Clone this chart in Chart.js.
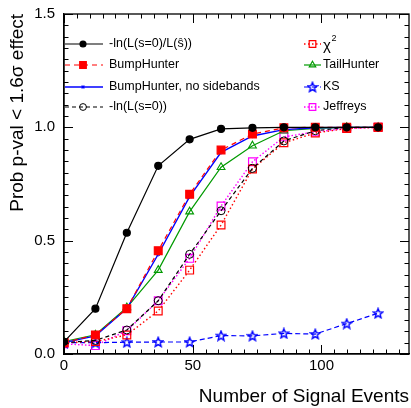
<!DOCTYPE html>
<html>
<head>
<meta charset="utf-8">
<script src="https://cdn.jsdelivr.net/npm/chart.js@4/dist/chart.umd.min.js"></script>
<style>
  body { margin: 0; background: #fff; }
  #wrap { width: 411px; height: 408px; }
</style>
</head>
<body>
<div id="wrap"><canvas id="myChart" width="411" height="408"></canvas></div>
<script>
// number of signal events
const nSignal = [0, 12.2, 24.4, 36.6, 48.8, 61, 73.2, 85.4, 97.6, 109.8, 122];

const llRatio = [0.054, 0.20, 0.535, 0.83, 0.947, 0.993, 0.998, 1.0, 1.0, 1.0, 1.0];
const bumpHunter = [0.05, 0.084, 0.20, 0.456, 0.705, 0.90, 0.97, 0.998, 1.0, 1.0, 1.0];
const bumpHunterNoSb = [0.05, 0.08, 0.20, 0.44, 0.694, 0.89, 0.962, 0.99, 0.998, 1.0, 1.0];
const llNull = [0.05, 0.06, 0.106, 0.235, 0.44, 0.632, 0.819, 0.94, 0.985, 1.0, 1.0];
const chi2 = [0.05, 0.055, 0.084, 0.19, 0.37, 0.569, 0.816, 0.932, 0.975, 0.995, 1.0];
const tailHunter = [0.055, 0.085, 0.205, 0.37, 0.628, 0.824, 0.919, 0.985, 0.995, 1.0, 1.0];
const ks = [0.05, 0.05, 0.052, 0.053, 0.053, 0.081, 0.08, 0.091, 0.088, 0.134, 0.18];
const jeffreys = [0.045, 0.037, 0.103, 0.235, 0.422, 0.653, 0.848, 0.958, 0.98, 0.995, 1.0];

const xTicks = [0, 50, 100];
const yTicks = [0, 0.5, 1.0, 1.5];

const FONT = 'Liberation Sans, Arial, Helvetica, sans-serif';

function pts(vals) {
  return vals.map((v, i) => ({ x: nSignal[i], y: v }));
}

// open 5-point star marker (ROOT style)
function makeStar(color) {
  const c = document.createElement('canvas');
  c.width = 12;
  c.height = 12;
  const g = c.getContext('2d');
  g.strokeStyle = color;
  g.lineWidth = 1.4;
  g.beginPath();
  for (let i = 0; i < 10; i++) {
    const r = i % 2 === 0 ? 5 : 2.2;
    const a = -Math.PI / 2 + (i * Math.PI) / 5;
    const px = 6 + r * Math.cos(a);
    const py = 6.4 + r * Math.sin(a);
    if (i === 0) g.moveTo(px, py);
    else g.lineTo(px, py);
  }
  g.closePath();
  g.stroke();
  return c;
}
const starImg = makeStar('#0000ff');

const none = 'rgba(0,0,0,0)';

const datasets = [
  { label: '-ln(L(s=0)/L(\u015D))', data: pts(llRatio), borderColor: '#000', backgroundColor: '#000',
    pointStyle: 'circle', pointRadius: 3.5, borderWidth: 1.2, col: 0 },
  { label: 'BumpHunter', data: pts(bumpHunter), borderColor: '#ff0000', backgroundColor: '#ff0000',
    borderDash: [5, 4], pointStyle: 'rect', pointRadius: 5.5, borderWidth: 1.2, col: 0 },
  { label: 'BumpHunter, no sidebands', data: pts(bumpHunterNoSb), borderColor: '#0000ff', backgroundColor: '#0000ff',
    pointStyle: 'star', pointRadius: 2.2, borderWidth: 1.4, pointBorderWidth: 1, col: 0 },
  { label: '-ln(L(s=0))', data: pts(llNull), borderColor: '#000', backgroundColor: none,
    borderDash: [4, 3], pointStyle: 'circle', pointRadius: 4, borderWidth: 1.2, pointBorderWidth: 1, col: 0 },
  { label: 'chi2', data: pts(chi2), borderColor: '#ff0000', backgroundColor: none,
    borderDash: [1.5, 2.5], pointStyle: 'rect', pointRadius: 5.5, borderWidth: 1.4, pointBorderWidth: 1.2, col: 1 },
  { label: 'TailHunter', data: pts(tailHunter), borderColor: '#009a00', backgroundColor: none,
    pointStyle: 'triangle', pointRadius: 4.5, borderWidth: 1.2, pointBorderWidth: 1.1, col: 1 },
  { label: 'KS', data: pts(ks), borderColor: '#0000ff', backgroundColor: none,
    borderDash: [5, 3], pointStyle: starImg, pointRadius: 5, borderWidth: 1.2, col: 1 },
  { label: 'Jeffreys', data: pts(jeffreys), borderColor: '#ff00ff', backgroundColor: none,
    borderDash: [1.5, 2], pointStyle: 'rect', pointRadius: 5.5, borderWidth: 1.4, pointBorderWidth: 1.2, col: 1 },
];
datasets.forEach((d) => {
  d.pointBackgroundColor = d.backgroundColor;
  d.pointBorderColor = d.borderColor;
  d.fill = false;
  d.tension = 0;
});

// stretch plot frame to the right edge (layout leaves a few px otherwise)
const stretchPlugin = {
  id: 'stretch',
  afterLayout(chart) {
    const right = chart.width - 2;
    const xs = chart.scales.x;
    xs.right = right;
    xs.width = right - xs.left;
    xs.configure();
    chart.chartArea.right = right;
    chart.chartArea.width = right - chart.chartArea.left;
  },
};

// ROOT-like frame with inner ticks on all four sides
const framePlugin = {
  id: 'frame',
  afterDraw(chart) {
    const ctx = chart.ctx;
    const xs = chart.scales.x;
    const ys = chart.scales.y;
    const a = chart.chartArea;
    ctx.save();
    ctx.strokeStyle = '#000';
    ctx.lineWidth = 1.3;
    ctx.strokeRect(a.left, a.top, a.right - a.left, a.bottom - a.top);
    ctx.lineWidth = 1;
    ctx.beginPath();
    for (let v = 0; v <= 134; v += 5) {
      const px = Math.round(xs.getPixelForValue(v)) + 0.5;
      const len = v % 50 === 0 ? 9 : 4.5;
      ctx.moveTo(px, a.bottom);
      ctx.lineTo(px, a.bottom - len);
      ctx.moveTo(px, a.top);
      ctx.lineTo(px, a.top + len);
    }
    for (let k = 0; k <= 30; k++) {
      const v = k * 0.05;
      const py = Math.round(ys.getPixelForValue(v)) + 0.5;
      const len = k % 10 === 0 ? 9 : 4.5;
      ctx.moveTo(a.left, py);
      ctx.lineTo(a.left + len, py);
      ctx.moveTo(a.right, py);
      ctx.lineTo(a.right - len, py);
    }
    ctx.stroke();
    ctx.restore();
  },
};

function drawMarker(ctx, d, x, y) {
  ctx.setLineDash([]);
  ctx.fillStyle = d.pointBackgroundColor;
  ctx.strokeStyle = d.pointBorderColor;
  ctx.lineWidth = d.pointBorderWidth || d.borderWidth;
  Chart.helpers.drawPoint(ctx, { pointStyle: d.pointStyle, radius: d.pointRadius * 0.85, rotation: 0,
    borderWidth: ctx.lineWidth }, x, y);
}

const legendPlugin = {
  id: 'rootLegend',
  afterDraw(chart) {
    const ctx = chart.ctx;
    const rowsY = [44, 65, 87, 107];
    const cols = [
      { x1: 65, x2: 103, mx: 83, tx: 109 },
      { x1: 304, x2: 321, mx: 312.5, tx: 323 },
    ];
    ctx.save();
    const counters = [0, 0];
    datasets.forEach((d) => {
      const c = cols[d.col];
      const y = rowsY[counters[d.col]++];
      ctx.strokeStyle = d.borderColor;
      ctx.lineWidth = d.borderWidth;
      ctx.setLineDash(d.borderDash || []);
      ctx.beginPath();
      ctx.moveTo(c.x1, y);
      ctx.lineTo(c.x2, y);
      ctx.stroke();
      drawMarker(ctx, d, c.mx, y);
      ctx.fillStyle = '#000';
      ctx.textBaseline = 'middle';
      ctx.textAlign = 'left';
      if (d.label === 'chi2') {
        ctx.font = '15px ' + FONT;
        ctx.fillText('\u03C7', c.tx, y + 2);
        ctx.font = '9px ' + FONT;
        ctx.fillText('2', c.tx + 8.5, y - 5);
      } else {
        ctx.font = '12.5px ' + FONT;
        ctx.fillText(d.label, c.tx, y);
      }
    });
    ctx.restore();
  },
};

const chartConfig = {
  type: 'line',
  data: { datasets: datasets },
  options: {
    responsive: false,
    animation: false,
    layout: { padding: { top: 14, right: 2, left: 0, bottom: 0 } },
    plugins: {
      legend: { display: false },
      tooltip: { enabled: false },
    },
    scales: {
      x: {
        type: 'linear',
        min: 0,
        max: 134,
        afterBuildTicks: (scale) => {
          scale.ticks = xTicks.map((v) => ({ value: v }));
        },
        afterFit: (scale) => {
          scale.height = 54;
          scale.paddingLeft = 0;
          scale.paddingRight = 0;
        },
        grid: { display: false, drawTicks: false },
        border: { display: true, color: '#000', width: 1.3 },
        ticks: {
          color: '#000',
          padding: 3,
          maxRotation: 0,
          font: { family: FONT, size: 15 },
        },
        title: {
          display: true,
          text: 'Number of Signal Events',
          align: 'end',
          color: '#000',
          padding: { top: 0, bottom: 0 },
          font: { family: FONT, size: 19 },
        },
      },
      y: {
        type: 'linear',
        min: 0,
        max: 1.5,
        afterBuildTicks: (scale) => {
          scale.ticks = yTicks.map((v) => ({ value: v }));
        },
        afterFit: (scale) => {
          scale.width = 64;
          scale.paddingTop = 0;
          scale.paddingBottom = 0;
        },
        grid: { display: false, drawTicks: false },
        border: { display: true, color: '#000', width: 1.3 },
        ticks: {
          color: '#000',
          padding: 9,
          font: { family: FONT, size: 15 },
          callback: (v) => Number(v).toFixed(1),
        },
        title: {
          display: true,
          text: 'Prob p-val < 1.6\u03C3 effect',
          align: 'end',
          color: '#000',
          padding: { top: 6, bottom: 0 },
          font: { family: FONT, size: 19 },
        },
      },
    },
  },
  plugins: [stretchPlugin, framePlugin, legendPlugin],
};

const ctx = document.getElementById('myChart');
const myChart = new Chart(ctx, chartConfig);
</script>
</body>
</html>
